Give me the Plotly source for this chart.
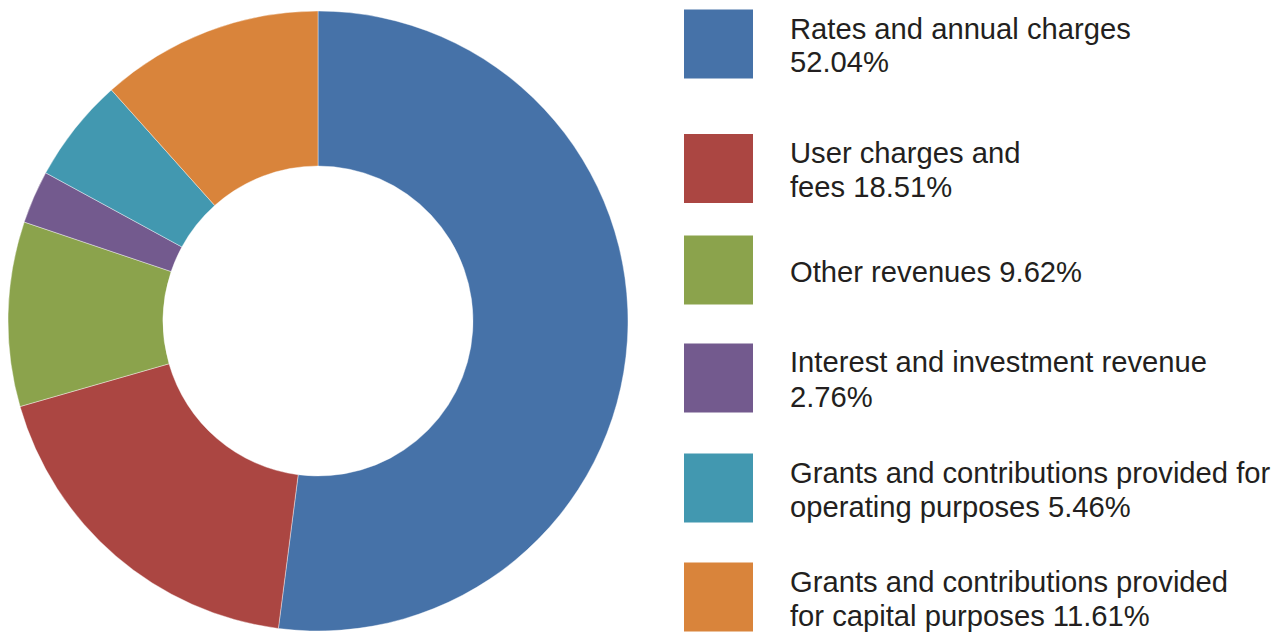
import plotly.graph_objects as go

W, H = 1286, 632

categories = [
    "Rates and annual charges",
    "User charges and fees",
    "Other revenues",
    "Interest and investment revenue",
    "Grants and contributions provided for operating purposes",
    "Grants and contributions provided for capital purposes",
]
shares = [52.04, 18.51, 9.62, 2.76, 5.46, 11.61]
colors = ["#4672A8", "#AB4642", "#8BA34C", "#735A8E", "#4298B0", "#D9843B"]
legend_lines = [
    ["Rates and annual charges", "52.04%"],
    ["User charges and", "fees 18.51%"],
    ["Other revenues 9.62%"],
    ["Interest and investment revenue", "2.76%"],
    ["Grants and contributions provided for", "operating purposes 5.46%"],
    ["Grants and contributions provided", "for capital purposes 11.61%"],
]

# legend layout (pixels)
legend_centers = [44, 168.5, 270, 378, 488, 597]
box_x0, box_x1, box_h = 684, 753, 69
text_x = 788
text_dy = 1.5
line_gap = 34

fig = go.Figure(
    go.Pie(
        labels=categories,
        values=shares,
        sort=False,
        direction="clockwise",
        rotation=0,
        hole=0.5,
        marker=dict(colors=colors, line=dict(color="white", width=0.4)),
        textinfo="none",
        hoverinfo="label+percent",
        domain=dict(x=[8 / W, 628 / W], y=[1 - 631 / H, 1 - 11 / H]),
        showlegend=False,
    )
)

shapes = []
annotations = []
for cy, col, lines in zip(legend_centers, colors, legend_lines):
    shapes.append(
        dict(
            type="rect", xref="paper", yref="paper",
            x0=box_x0 / W, x1=box_x1 / W,
            y0=1 - (cy + box_h / 2) / H, y1=1 - (cy - box_h / 2) / H,
            fillcolor=col, line=dict(width=0),
        )
    )
    n = len(lines)
    for i, t in enumerate(lines):
        ly = cy + text_dy + (i - (n - 1) / 2) * line_gap
        annotations.append(
            dict(
                text=t, xref="paper", yref="paper",
                x=text_x / W, y=1 - ly / H,
                xanchor="left", yanchor="middle",
                showarrow=False,
                font=dict(family="Liberation Sans, Arial, sans-serif", size=29.2, color="#231F20"),
            )
        )

fig.update_layout(
    width=W, height=H,
    margin=dict(l=0, r=0, t=0, b=0),
    paper_bgcolor="white",
    plot_bgcolor="white",
    shapes=shapes,
    annotations=annotations,
)

fig.write_html(
    "out.html",
    config={"displayModeBar": False},
    post_script="document.body.style.margin='0';",
)
